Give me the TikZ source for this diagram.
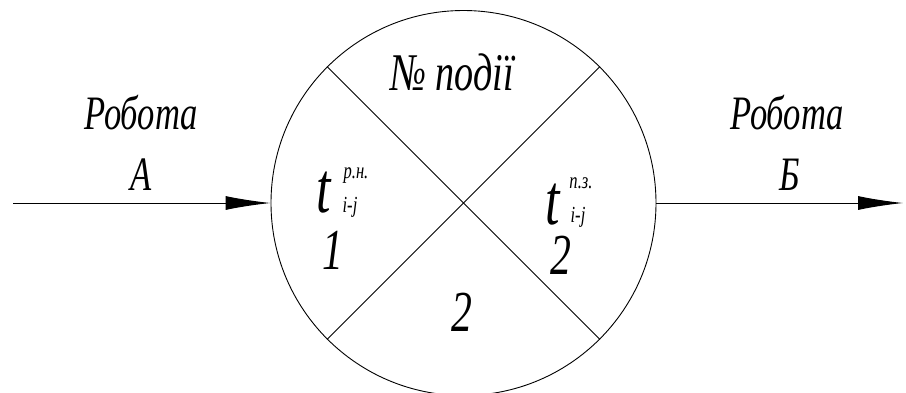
\documentclass[tikz,border=0pt]{standalone}
\usepackage{fontspec}
\usepackage{graphicx}
\setmainfont{Liberation Serif}
\usetikzlibrary{arrows.meta}
\newcommand\nar[1]{\scalebox{0.72}[1]{#1}}
\tikzset{
  lbl/.style={inner sep=0pt, anchor=base, font=\fontsize{48}{48}\selectfont\itshape},
  num/.style={inner sep=0pt, anchor=base, font=\fontsize{58}{58}\selectfont\itshape},
  tt/.style={inner sep=0pt, anchor=base, font=\fontsize{72}{72}\selectfont\itshape},
  small/.style={inner sep=0pt, anchor=base, font=\fontsize{23}{23}\selectfont\itshape},
  arr/.style={-{Latex[length=45pt,width=14pt]}, line width=1pt},
  thin/.style={line width=0.9pt}
}
\begin{document}
\begin{tikzpicture}[x=1pt,y=-1pt]
\useasboundingbox (0,0) rectangle (906,392);
\node[draw, thin, circle, minimum size=385pt, inner sep=0pt] (ev) at (463.5,203) {};
\draw[thin] (ev.135) -- (ev.-45);
\draw[thin] (ev.45) -- (ev.-135);
\coordinate (inL) at (13,203);
\coordinate (outR) at (903,203);
\draw[arr] (inL) -- (ev.west);
\draw[arr] (ev.east) -- (outR);
\node[lbl] (ra) at (141,129) {\nar{Робота}};
\node[lbl] (a) at (141,190) {\nar{А}};
\node[lbl] (rb) at (787,129) {\nar{Робота}};
\node[lbl] (b) at (790,190) {\nar{Б}};
\node[lbl, font=\fontsize{53}{53}\selectfont\itshape] (no) at (452,90) {\nar{№ події}};
\node[tt] (t1) at (323.5,212) {\nar{t}};
\node[small] (s1) at (356,178) {\nar{р.н.}};
\node[small] (i1) at (350,212) {\nar{i-j}};
\node[num] (n1) at (333,269) {\nar{1}};
\node[tt] (t2) at (552.5,224) {\nar{t}};
\node[small] (s2) at (581,188) {\nar{п.з.}};
\node[small] (i2) at (578,222) {\nar{i-j}};
\node[num] (n2) at (561,274) {\nar{2}};
\node[num] (n3) at (462,331) {\nar{2}};
\end{tikzpicture}
\end{document}
